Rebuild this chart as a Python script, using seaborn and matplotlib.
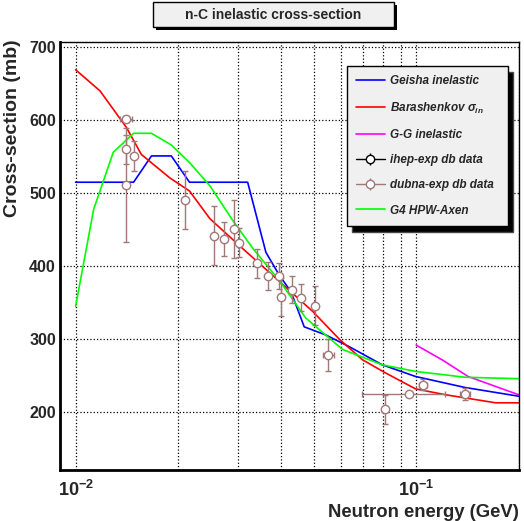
import matplotlib
matplotlib.use("Agg")
import matplotlib.pyplot as plt
import matplotlib.patches as mpatches
import matplotlib.ticker as mticker
import seaborn as sns
import numpy as np

# Geisha inelastic
geisha_e = [0.010, 0.0148, 0.0167, 0.0191, 0.0216, 0.0320, 0.0362, 0.0396, 0.0429,
            0.0469, 0.0542, 0.0635, 0.0795, 0.0996, 0.139, 0.2]
geisha_xs = [515, 515, 551, 551, 515, 515, 419, 388, 365, 317, 306, 290, 265, 249, 234, 222]

# Barashenkov
bar_e = [0.010, 0.0118, 0.0141, 0.0156, 0.0189, 0.0216, 0.0248, 0.0303, 0.0397, 0.0497,
         0.0595, 0.0695, 0.0812, 0.0996, 0.122, 0.171, 0.2]
bar_xs = [669, 640, 590, 553, 521, 503, 465, 428, 379, 338, 300, 272, 254, 232, 224, 213, 213]

# G-G inelastic
gg_e = [0.1, 0.119, 0.142, 0.2]
gg_xs = [292, 272, 249, 224]

# G4 HPW-Axen
hpw_e = [0.010, 0.0113, 0.0129, 0.0148, 0.0167, 0.0191, 0.0216, 0.0248, 0.0290, 0.0332,
         0.0400, 0.0474, 0.0608, 0.0795, 0.0996, 0.139, 0.2]
hpw_xs = [345, 478, 556, 582, 582, 566, 542, 510, 462, 424, 378, 329, 286, 265, 256, 248, 246]

# dubna-exp db data
dubna_e = [0.01407, 0.0141, 0.0148, 0.0141, 0.0210, 0.0255, 0.0272, 0.0292, 0.0301, 0.0341,
           0.0368, 0.0396, 0.0402, 0.0431, 0.0460, 0.0503, 0.0552, 0.0812, 0.0952, 0.1049, 0.1395]
dubna_xs = [602, 560, 551, 511, 491, 442, 437, 451, 432, 404, 387, 387, 358, 368, 357, 346,
            278, 204, 225, 238, 225]
dubna_yerr = [4, 20, 20, 78, 40, 40, 23, 40, 20, 20, 19, 18, 26, 18, 18, 27, 22, 20, 3, 7, 8]
dubna_xerr = [0.0006, 0, 0, 0, 0, 0, 0, 0, 0, 0, 0, 0, 0, 0, 0, 0, 0.002, 0, 0.026, 0.003, 0.0047]

# ihep-exp db data (no points in range)
ihep_e = []
ihep_xs = []

sns.set_style("white")
plt.rcParams['font.family'] = ['Liberation Sans', 'DejaVu Sans']
plt.rcParams['font.weight'] = 'bold'
plt.rcParams['mathtext.fontset'] = 'custom'
plt.rcParams['mathtext.rm'] = 'Liberation Sans:bold'
plt.rcParams['mathtext.bf'] = 'Liberation Sans:bold'
plt.rcParams['mathtext.it'] = 'Liberation Sans:italic:bold'

DUBNA = '#a07878'

fig = plt.figure(figsize=(5.24, 5.21), dpi=100)
ax = fig.add_axes([0.1145, 0.0979, 0.8755, 0.8215])

lw = 1.2
sns.lineplot(x=geisha_e, y=geisha_xs, color='#0000ff', lw=lw, sort=False, estimator=None,
             ax=ax, label='Geisha inelastic')
sns.lineplot(x=bar_e, y=bar_xs, color='#ff0000', lw=lw, sort=False, estimator=None,
             ax=ax, label=r'Barashenkov $\sigma_{in}$')
sns.lineplot(x=gg_e, y=gg_xs, color='#ff00ff', lw=lw, sort=False, estimator=None,
             ax=ax, label='G-G inelastic')
sns.lineplot(x=hpw_e, y=hpw_xs, color='#00ff00', lw=lw, sort=False, estimator=None,
             ax=ax, label='G4 HPW-Axen')
ax.errorbar(ihep_e, ihep_xs, yerr=[], fmt='-o', color='black', mfc='white', ms=6,
            lw=1, capsize=0, label='ihep-exp db data')

# dubna points: vertical bars for all, horizontal bars only where given
de = np.array(dubna_e)
dx = np.array(dubna_xerr)
dv = np.array(dubna_xs)
has_x = dx > 0
ax.errorbar(de[has_x], dv[has_x], xerr=dx[has_x], fmt='none', ecolor=DUBNA,
            elinewidth=1, capsize=2, capthick=1, zorder=3)
ax.errorbar(dubna_e, dubna_xs, yerr=dubna_yerr, fmt='o', color=DUBNA,
            mfc='white', mec=DUBNA, ms=6, mew=1, elinewidth=1, capsize=2, capthick=1,
            label='_nolegend_', zorder=4)
ax.errorbar([], [], yerr=[], fmt='-o', color=DUBNA, mfc='white', mec=DUBNA, ms=6,
            lw=1, capsize=0, label='dubna-exp db data')

ax.set_xscale('log')
ax.set_xlim(0.009, 0.2)
ax.set_ylim(121, 707)

# ticks
ax.xaxis.set_major_locator(mticker.FixedLocator([0.01, 0.1]))
ax.xaxis.set_major_formatter(mticker.FixedFormatter([r'$\mathbf{10^{-2}}$', r'$\mathbf{10^{-1}}$']))
ax.xaxis.set_minor_locator(mticker.LogLocator(base=10, subs=np.arange(2, 10), numticks=20))
ax.xaxis.set_minor_formatter(mticker.NullFormatter())
ax.yaxis.set_major_locator(mticker.MultipleLocator(100))
ax.yaxis.set_minor_locator(mticker.MultipleLocator(20))
ax.tick_params(axis='both', which='both', direction='in', color='black')
ax.tick_params(axis='y', which='major', length=10, width=1.5, labelsize=11.5, pad=3)
ax.tick_params(axis='y', which='minor', length=6, width=1)
ax.tick_params(axis='x', which='major', length=7, width=1, labelsize=13, pad=7)
ax.tick_params(axis='x', which='minor', length=5, width=1)

ax.grid(True, which='major', axis='both', ls=':', color='black', lw=0.9)
ax.grid(True, which='minor', axis='x', ls=':', color='black', lw=0.9)

for side in ['left', 'bottom']:
    ax.spines[side].set_linewidth(2)
for side in ['top', 'right']:
    ax.spines[side].set_linewidth(1)
for s in ax.spines.values():
    s.set_color('black')

ax.set_ylabel('Cross-section (mb)', fontsize=14, fontweight='bold', loc='top')
ax.yaxis.set_label_coords(-0.085, 1.005)
ax.set_xlabel('Neutron energy (GeV)', fontsize=13.3, fontweight='bold', loc='right')
ax.xaxis.set_label_coords(1.0, -0.08)

handles, labels = ax.get_legend_handles_labels()
lookup = dict(zip(labels, handles))
order = ['Geisha inelastic', r'Barashenkov $\sigma_{in}$', 'G-G inelastic',
         'ihep-exp db data', 'dubna-exp db data', 'G4 HPW-Axen']
leg = ax.legend([lookup[k] for k in order], order,
                loc='upper left', bbox_to_anchor=(0.625, 0.944, 0.351, 0.0), mode='expand',
                frameon=True, fancybox=False, edgecolor='black', facecolor='#f0f0f0',
                framealpha=1, shadow={'ox': 4, 'oy': -4, 'facecolor': 'black', 'alpha': 1},
                prop={'size': 8.5, 'weight': 'bold', 'style': 'italic'},
                handlelength=2.4, handletextpad=0.5, labelspacing=1.12, borderpad=0.8,
                borderaxespad=0)
leg.get_frame().set_linewidth(1)

# title box with shadow
fig.patches.append(mpatches.Rectangle((0.298, 0.942), 0.46, 0.048, transform=fig.transFigure,
                                      facecolor='black', edgecolor='none', zorder=1))
fig.patches.append(mpatches.Rectangle((0.292, 0.948), 0.46, 0.048, transform=fig.transFigure,
                                      facecolor='#f0f0f0', edgecolor='black', lw=1, zorder=2))
fig.text(0.522, 0.972, 'n-C inelastic cross-section', ha='center', va='center',
         fontsize=10, fontweight='bold', zorder=3)

fig.savefig('out.png', dpi=100, facecolor='white')
